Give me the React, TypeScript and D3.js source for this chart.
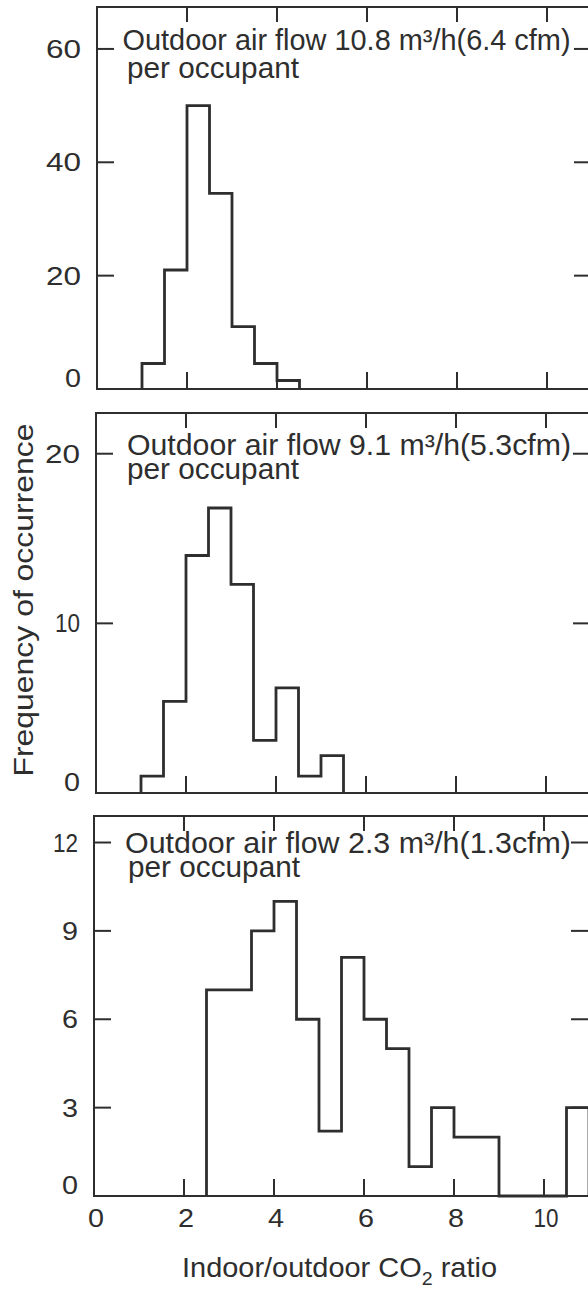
import React from 'react';
import * as d3 from 'd3';

// ---------- data ----------
const BIN_WIDTH = 0.5;
const xTickValues = [0, 2, 4, 6, 8, 10];
const X_MAX = 11;

// Panel 1: outdoor air flow 10.8 m3/h per occupant
const flow1Start = 1.0;
const flow1Counts = [4.5, 21, 50, 34.5, 11, 4.5, 1.5];
const flow1YTicks = [0, 20, 40, 60];
const flow1YMax = 67.4;
const flow1Title = 'Outdoor air flow 10.8 m³/h(6.4 cfm)';

// Panel 2: outdoor air flow 9.1 m3/h per occupant
const flow2Start = 1.0;
const flow2Counts = [1, 5.4, 14, 16.8, 12.3, 3.1, 6.2, 1, 2.2];
const flow2YTicks = [0, 10, 20];
const flow2YMax = 22.4;
const flow2Title = 'Outdoor air flow 9.1 m³/h(5.3cfm)';

// Panel 3: outdoor air flow 2.3 m3/h per occupant
const flow3Start = 2.5;
const flow3Counts = [7, 7, 9, 10, 6, 2.2, 8.1, 6, 5, 1, 3, 2, 2, 0, 0, 0, 3];
const flow3YTicks = [0, 3, 6, 9, 12];
const flow3YMax = 12.9;
const flow3Title = 'Outdoor air flow 2.3 m³/h(1.3cfm)';

const yAxisTitle = 'Frequency of occurrence';
const xAxisTitleA = 'Indoor/outdoor CO';
const xAxisTitleSub = '2';
const xAxisTitleB = ' ratio';
const titleLine2 = 'per occupant';

// ---------- layout ----------
const W = 588;
const H = 1289;
const PX_PER_UNIT = 45;
const INK = '#2e2e2e';
const FONT = "'Liberation Sans', Arial, sans-serif";

const panels = [
  {
    start: flow1Start, counts: flow1Counts, yTicks: flow1YTicks, yMax: flow1YMax,
    title: flow1Title,
    left: 97, top: 7, bottom: 389,
    t1: { x: 122.5, y: 50, len: 448 }, t2: { x: 127, y: 78, len: 172 },
  },
  {
    start: flow2Start, counts: flow2Counts, yTicks: flow2YTicks, yMax: flow2YMax,
    title: flow2Title,
    left: 96, top: 413, bottom: 793,
    t1: { x: 127, y: 455, len: 444 }, t2: { x: 127, y: 479, len: 172 },
  },
  {
    start: flow3Start, counts: flow3Counts, yTicks: flow3YTicks, yMax: flow3YMax,
    title: flow3Title,
    left: 94, top: 816, bottom: 1196,
    t1: { x: 125, y: 853, len: 446 }, t2: { x: 128, y: 877, len: 172 },
  },
];

// width of a numeric label in the reference's wide, round lettering
function labelWidth(s: string) {
  let w = 0;
  for (let i = 0; i < s.length; i++) {
    w += s[i] === '1' ? 6 : 16;
    if (i > 0) w += 3;
  }
  return w;
}

function Panel({ p, showXLabels }: { p: typeof panels[number]; showXLabels: boolean }) {
  const x = d3.scaleLinear().domain([0, X_MAX]).range([p.left, p.left + X_MAX * PX_PER_UNIT]);
  const y = d3.scaleLinear().domain([0, p.yMax]).range([p.bottom, p.top]);

  const pts: [number, number][] = [[p.start, 0]];
  p.counts.forEach((c, i) => pts.push([p.start + i * BIN_WIDTH, c]));
  pts.push([p.start + p.counts.length * BIN_WIDTH, 0]);
  const line = d3
    .line<[number, number]>()
    .x((d) => x(d[0]))
    .y((d) => y(d[1]))
    .curve(d3.curveStepAfter);

  const right = x(X_MAX);
  const innerTicksX = xTickValues.filter((v) => v > 0);
  const innerTicksY = p.yTicks.filter((v) => v > 0);

  return (
    <g>
      <rect
        x={p.left}
        y={p.top}
        width={right - p.left}
        height={p.bottom - p.top}
        fill="none"
        stroke={INK}
        strokeWidth={2}
      />
      {innerTicksX.map((v) => (
        <g key={'xt' + v}>
          <line x1={x(v)} x2={x(v)} y1={p.top} y2={p.top + 15} stroke={INK} strokeWidth={2} />
          <line x1={x(v)} x2={x(v)} y1={p.bottom} y2={p.bottom - 17} stroke={INK} strokeWidth={2} />
        </g>
      ))}
      {innerTicksY.map((v) => (
        <g key={'yt' + v}>
          <line x1={p.left} x2={p.left + 17} y1={y(v)} y2={y(v)} stroke={INK} strokeWidth={2} />
          <line x1={right} x2={right - 18} y1={y(v)} y2={y(v)} stroke={INK} strokeWidth={2} />
        </g>
      ))}
      {p.yTicks.map((v) => {
        const s = String(v);
        const w = labelWidth(s);
        return (
          <text
            key={'yl' + v}
            x={p.left - 16 - w}
            y={Math.min(y(v) + 9, p.bottom - 2)}
            fontSize={25}
            fontFamily={FONT}
            fill={INK}
            textLength={w}
            lengthAdjust="spacingAndGlyphs"
          >
            {s}
          </text>
        );
      })}
      {showXLabels &&
        xTickValues.map((v) => {
          const s = String(v);
          const w = labelWidth(s);
          return (
            <text
              key={'xl' + v}
              x={x(v) + 2 - w / 2}
              y={p.bottom + 31}
              fontSize={25}
              fontFamily={FONT}
              fill={INK}
              textLength={w}
              lengthAdjust="spacingAndGlyphs"
            >
              {s}
            </text>
          );
        })}
      <path
        d={line(pts) || ''}
        fill="none"
        stroke={INK}
        strokeWidth={2.8}
        strokeLinejoin="miter"
      />
      <text
        x={p.t1.x}
        y={p.t1.y}
        fontSize={29}
        fontFamily={FONT}
        fill={INK}
        textLength={p.t1.len}
        lengthAdjust="spacingAndGlyphs"
      >
        {p.title}
      </text>
      <text
        x={p.t2.x}
        y={p.t2.y}
        fontSize={29}
        fontFamily={FONT}
        fill={INK}
        textLength={p.t2.len}
        lengthAdjust="spacingAndGlyphs"
      >
        {titleLine2}
      </text>
    </g>
  );
}

export default function App() {
  return (
    <svg
      width={W}
      height={H}
      viewBox={`0 0 ${W} ${H}`}
      style={{ position: 'absolute', left: 0, top: 0, display: 'block', background: '#fff' }}
    >
      <rect x={0} y={0} width={W} height={H} fill="#fff" />
      {panels.map((p, i) => (
        <Panel key={i} p={p} showXLabels={i === panels.length - 1} />
      ))}
      <text
        transform="translate(33,600) rotate(-90)"
        textAnchor="middle"
        fontSize={28}
        fontFamily={FONT}
        fill={INK}
        textLength={353}
        lengthAdjust="spacingAndGlyphs"
      >
        {yAxisTitle}
      </text>
      <text
        x={182}
        y={1277}
        fontSize={28}
        fontFamily={FONT}
        fill={INK}
        textLength={315}
        lengthAdjust="spacingAndGlyphs"
      >
        {xAxisTitleA}
        <tspan dy={8} fontSize={19}>{xAxisTitleSub}</tspan>
        <tspan dy={-8}>{xAxisTitleB}</tspan>
      </text>
    </svg>
  );
}
